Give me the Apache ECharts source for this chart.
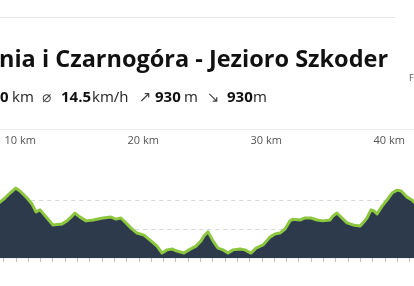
<!DOCTYPE html>
<html>
<head>
<meta charset="utf-8">
<script src="https://cdn.jsdelivr.net/npm/echarts@6/dist/echarts.min.js"></script>
<style>
html,body{margin:0;padding:0;background:#fff;}
#c{width:414px;height:286px;}
</style>
</head>
<body>
<div id="c"></div>
<script>
// Distance along route (km)
var distanceKm = [9.5, 9.72, 10.12, 10.53, 10.99, 11.34, 11.91, 12.32, 12.64, 12.97, 13.13, 13.54, 14.02, 14.76, 15.16, 15.49, 15.81, 16.22, 16.71, 17.28, 18.09, 18.74, 19.15, 19.55, 19.96, 20.37, 20.85, 21.42, 21.99, 22.48, 22.89, 23.29, 23.70, 24.11, 24.67, 25.08, 25.65, 26.06, 26.30, 26.63, 27.03, 27.44, 27.85, 28.25, 28.66, 29.23, 29.63, 30.12, 30.53, 31.10, 31.67, 32.07, 32.48, 32.89, 33.29, 33.54, 34.11, 34.51, 35.0, 35.49, 35.98, 36.54, 36.79, 37.11, 37.52, 37.93, 38.41, 38.98, 39.23, 39.55, 39.88, 40.12, 40.37, 40.78, 41.18, 41.59, 42.0, 42.33, 42.81, 43.21, 43.54, 44];
// Elevation (m)
var elevationM = [186, 193, 207, 224, 241, 231, 207, 186, 159, 166, 162, 138, 114, 117, 128, 141, 155, 141, 128, 131, 138, 141, 134, 138, 121, 103, 86, 79, 59, 41, 17, 28, 31, 24, 17, 28, 41, 59, 76, 90, 59, 34, 28, 17, 28, 31, 28, 17, 34, 45, 72, 83, 86, 100, 128, 134, 131, 138, 138, 131, 128, 131, 145, 155, 138, 121, 114, 110, 121, 138, 166, 162, 152, 179, 200, 224, 234, 231, 210, 200, 186, 175];
// Axis tick labels (km marks)
var kmLabels = [10, 20, 30, 40];
// Header texts
var titleText = 'nia i Czarnogóra - Jezioro Szkoder';
var statDistance = '0';
var statSpeed = '14.5';
var statUp = '930';
var statDown = '930';
// Segments drawn in the steep (orange-ish) colour, in km
var steepRanges = [[9, 10.7, '#b9b43c'], [25.85, 26.65, '#cf923c'], [30.4, 32.1, '#aab83d'], [39.4, 41.45, '#cf923c']];

var data = distanceKm.map(function (d, i) { return [d, elevationM[i]]; });

var chart = echarts.init(document.getElementById('c'), null, {renderer: 'canvas'});

var font = '"Open Sans", "DejaVu Sans", sans-serif';
var statFont = 15;

var option = {
  animation: false,
  backgroundColor: '#ffffff',
  grid: {left: -8.8, right: -7.7, top: 171, bottom: 28, containLabel: false, outerBoundsMode: 'none'},
  xAxis: {
    type: 'value',
    min: 9,
    max: 44,
    interval: 1,
    position: 'top',
    offset: 19,
    axisLine: {show: true, lineStyle: {color: '#f2f2f2', width: 1}},
    axisTick: {show: true, inside: true, length: 4, lineStyle: {color: '#bdbdbd', width: 1}},
    axisLabel: {
      show: true,
      margin: 6,
      align: 'left',
      padding: [0, 0, 0, 1],
      fontSize: 11,
      fontFamily: font,
      color: '#555',
      hideOverlap: false,
      formatter: function (v) {
        return kmLabels.indexOf(Math.round(v)) >= 0 && Math.abs(v - Math.round(v)) < 1e-6 ? v + ' km' : '';
      }
    },
    splitLine: {show: false}
  },
  yAxis: {
    type: 'value',
    min: 0,
    max: 300,
    interval: 100,
    axisLine: {show: false},
    axisTick: {show: false},
    axisLabel: {show: false},
    splitLine: {show: true, showMinLine: false, showMaxLine: false, lineStyle: {color: '#d6d6d6', type: [4, 4], width: 1}}
  },
  visualMap: {
    type: 'piecewise',
    show: false,
    dimension: 0,
    seriesIndex: 0,
    pieces: steepRanges.map(function (r) { return {gt: r[0], lte: r[1], color: r[2]}; }),
    outOfRange: {color: '#8dc63f'}
  },
  series: [{
    type: 'line',
    data: data,
    showSymbol: false,
    smooth: false,
    lineStyle: {width: 3, color: '#8dc63f', join: 'round'},
    areaStyle: {color: '#2d3a4c', opacity: 1},
    z: 3
  }],
  graphic: [
    {type: 'line', shape: {x1: 0, y1: 17.5, x2: 395, y2: 17.5}, style: {stroke: '#e6e6e6', lineWidth: 1}},
    {type: 'line', shape: {x1: 0, y1: 129.5, x2: 414, y2: 129.5}, style: {stroke: '#ebebeb', lineWidth: 1}},
    {type: 'text', x: -1, y: 60, style: {text: titleText, font: 'bold 23.5px ' + font, fill: '#111', verticalAlign: 'middle'}},
    {type: 'text', x: 409, y: 78, style: {text: 'F', font: '9px ' + font, fill: '#555', verticalAlign: 'middle'}},
    {type: 'text', x: 0, y: 98, style: {text: statDistance, font: 'bold ' + statFont + 'px ' + font, fill: '#111', verticalAlign: 'middle'}},
    {type: 'text', x: 12, y: 98, style: {text: 'km', font: statFont + 'px ' + font, fill: '#222', verticalAlign: 'middle'}},
    {type: 'text', x: 42, y: 98, style: {text: '\u2300', font: statFont + 'px "DejaVu Sans", sans-serif', fill: '#444', verticalAlign: 'middle'}},
    {type: 'text', x: 61, y: 98, style: {text: statSpeed, font: 'bold ' + statFont + 'px ' + font, fill: '#111', verticalAlign: 'middle'}},
    {type: 'text', x: 92, y: 98, style: {text: 'km/h', font: statFont + 'px ' + font, fill: '#222', verticalAlign: 'middle'}},
    {type: 'text', x: 139, y: 98, style: {text: '\u2197', font: statFont + 'px "DejaVu Sans", sans-serif', fill: '#444', verticalAlign: 'middle'}},
    {type: 'text', x: 155, y: 98, style: {text: statUp, font: 'bold ' + statFont + 'px ' + font, fill: '#111', verticalAlign: 'middle'}},
    {type: 'text', x: 184, y: 98, style: {text: 'm', font: statFont + 'px ' + font, fill: '#222', verticalAlign: 'middle'}},
    {type: 'text', x: 207, y: 98, style: {text: '\u2198', font: statFont + 'px "DejaVu Sans", sans-serif', fill: '#444', verticalAlign: 'middle'}},
    {type: 'text', x: 227, y: 98, style: {text: statDown, font: 'bold ' + statFont + 'px ' + font, fill: '#111', verticalAlign: 'middle'}},
    {type: 'text', x: 253, y: 98, style: {text: 'm', font: statFont + 'px ' + font, fill: '#222', verticalAlign: 'middle'}}
  ]
};
chart.setOption(option);
</script>
</body>
</html>
